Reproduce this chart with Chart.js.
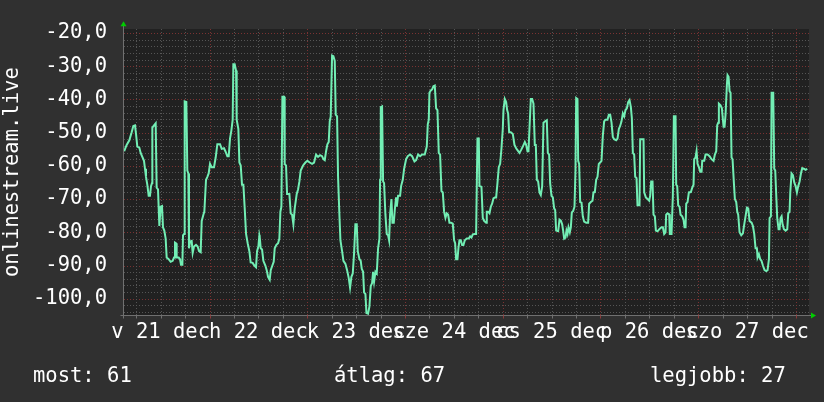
<!DOCTYPE html>
<html>
<head>
<meta charset="utf-8">
<script src="https://cdn.jsdelivr.net/npm/chart.js@4.4.1/dist/chart.umd.min.js"></script>
<style>
html,body{margin:0;padding:0;background:#303030;}
#wrap{position:relative;width:824px;height:402px;overflow:hidden;}
canvas{display:block;}
.stat{position:absolute;top:363px;font-family:"DejaVu Sans Mono",monospace;font-size:20.5px;line-height:24px;color:#ffffff;white-space:pre;}
#s0{left:33px;} #s1{left:334px;} #s2{left:650px;}
</style>
</head>
<body>
<div id="wrap">
<canvas id="c" width="824" height="402"></canvas>
<span class="stat" id="s0"></span><span class="stat" id="s1"></span><span class="stat" id="s2"></span>
</div>
<script>
// ---- data (hours counted from 21 Dec 00:00) ----
const hoursA = [3.05,3.65,4.31,4.88,5.29,5.70,5.95,6.27,6.76,7.09,7.58,7.91,8.16,8.40,8.73,9.06,9.38,9.63,9.88,9.96,10.37,10.78,11.02,11.35,11.68,12.00,12.33,12.58,12.90,13.23,13.48,13.97,14.46,14.95,15.28,15.52,15.77,15.93,16.43,16.75,17.00,17.33,17.49,17.74,17.90,18.31,18.55,18.80,18.96,19.21,19.62,19.86,20.19,20.68,21.09,21.42,21.83,22.08,22.49,22.73,23.14,23.47,23.79,24.12,24.53,25.10,25.51,25.92,26.58,26.99,27.56,27.89,28.38,28.71,29.03,29.36,29.69,29.85,30.18,30.51,30.67,31.08,31.33,31.66,31.98,32.31,32.64,32.97,33.37,33.78,34.11,34.60,35.01,35.42,35.67,36.00,36.24];
const valuesA = [-55.6,-53.7,-52.3,-49.9,-48.0,-47.8,-50.4,-54.2,-54.5,-56.1,-57.5,-58.5,-60.9,-63.3,-65.7,-69.0,-69.0,-66.1,-65.2,-48.5,-47.8,-47.2,-66.6,-67.1,-78.1,-72.3,-72.1,-78.5,-79.5,-81.9,-87.6,-88.1,-88.9,-88.6,-87.6,-83.1,-83.3,-87.6,-87.6,-88.1,-89.8,-89.8,-80.9,-80.5,-40.6,-40.8,-61.4,-62.3,-84.8,-82.8,-82.6,-86.2,-84.3,-83.8,-84.3,-85.7,-86.0,-76.6,-74.7,-73.8,-64.2,-63.3,-62.3,-59.4,-60.4,-60.4,-57.5,-53.5,-53.5,-54.9,-54.7,-55.6,-57.1,-57.1,-51.8,-49.4,-46.1,-29.4,-29.4,-31.3,-46.1,-48.9,-59.0,-59.9,-65.7,-65.7,-72.8,-80.5,-83.3,-85.7,-89.1,-89.2,-90.0,-90.5,-85.7,-84.3,-80.9];

const hoursB = [36.32,36.57,36.90,37.22,37.71,38.04,38.37,38.78,39.03,39.43,39.76,40.01,40.42,40.83,41.15,41.40,41.65,41.89,42.30,42.46,42.79,43.04,43.61,43.94,44.27,44.59,44.92,45.41,45.74,46.07,46.39,46.97,47.54,48.03,48.61,49.18,49.67,50.16,50.65,51.14,51.63,51.96,52.29,52.62,52.94,53.27,53.52,53.76,54.09,54.42,54.75,54.99,55.32,55.56,55.89,56.14,56.55,56.88,57.37,57.78,58.19,58.51,58.84,59.17,59.50,59.82,60.15,60.40,60.81,61.13,61.38,61.71,61.95,62.28,62.53,62.93,63.26,63.59,63.92,64.16,64.41,64.74,65.06,65.39,65.72,65.88,66.05,66.37,66.62,66.86,67.19,67.52,67.85,68.09,68.34,68.67,68.91,69.24,69.49,69.81];
const valuesB = [-81.4,-84.8,-85.2,-88.6,-90.0,-91.4,-93.4,-94.3,-91.4,-90.0,-88.9,-84.8,-83.8,-83.3,-81.9,-73.8,-72.3,-39.2,-39.2,-59.4,-59.9,-68.5,-68.5,-74.3,-74.7,-77.6,-72.8,-68.5,-67.1,-64.7,-61.4,-59.9,-59.0,-58.5,-59.0,-59.4,-59.0,-56.6,-57.3,-56.8,-57.1,-58.0,-58.3,-55.6,-53.5,-52.8,-46.6,-45.1,-26.8,-27.0,-28.4,-44.6,-45.1,-63.3,-74.7,-82.4,-85.7,-88.6,-89.5,-91.4,-93.8,-96.7,-93.4,-92.4,-86.2,-77.6,-77.6,-85.7,-88.1,-88.6,-91.0,-91.9,-98.1,-98.6,-104.3,-104.5,-102.4,-96.2,-95.3,-91.9,-94.8,-91.9,-92.4,-84.8,-81.9,-64.2,-42.3,-42.1,-64.7,-65.2,-74.7,-80.5,-80.9,-82.4,-74.7,-70.0,-77.1,-77.1,-73.3,-69.5];

const hoursC = [69.98,70.30,70.79,71.04,71.45,71.78,72.27,72.68,73.25,73.74,74.32,74.73,75.22,75.71,76.20,76.85,77.35,77.59,77.84,78.00,78.33,78.66,78.98,79.31,79.64,79.97,80.29,80.62,80.95,81.28,81.60,81.93,82.26,82.59,82.91,83.32,83.73,84.06,84.31,84.55,84.88,85.12,85.37,85.70,86.02,86.35,86.68,87.17,87.66,87.99,88.32,88.64,89.14,89.46,89.79,90.12,90.28,90.77,91.10,91.43,91.92,92.08,92.41,92.74,93.07,93.39,93.72,94.05,94.38,94.70,95.03,95.36,95.69,96.01,96.18,96.50,96.83,97.08,97.32,97.57,97.98,98.47,98.88,99.29,99.70,100.11,100.52,100.93,101.42,101.74,102.07,102.32,102.56,102.89,103.22,103.55,103.87];
const valuesC = [-72.3,-69.0,-69.0,-66.1,-64.2,-60.9,-58.0,-57.1,-56.6,-57.1,-58.7,-58.3,-56.6,-57.1,-56.6,-56.6,-54.2,-47.5,-46.1,-38.0,-37.3,-37.0,-36.0,-35.8,-42.7,-43.2,-56.1,-56.6,-67.6,-68.0,-73.8,-75.7,-74.3,-74.7,-77.1,-77.1,-77.4,-82.4,-83.3,-88.1,-88.1,-84.8,-82.4,-82.4,-83.8,-83.8,-82.4,-81.9,-81.9,-81.2,-81.6,-80.6,-80.5,-80.5,-51.8,-51.8,-66.1,-66.3,-75.7,-76.6,-77.1,-73.8,-73.8,-74.3,-72.3,-71.4,-69.8,-69.5,-69.5,-65.2,-60.4,-59.4,-54.7,-48.9,-43.2,-39.9,-40.8,-43.2,-44.2,-49.9,-49.9,-50.4,-53.7,-54.7,-55.4,-56.1,-55.2,-54.2,-52.8,-53.7,-55.6,-55.6,-48.9,-39.9,-39.9,-41.3,-53.7];

const hoursD = [104.12,104.37,104.69,105.02,105.35,105.68,106.00,106.41,106.82,107.07,107.39,107.64,107.97,108.30,108.62,108.87,109.11,109.61,109.93,110.26,110.59,110.83,111.08,111.41,111.65,111.90,112.14,112.47,112.72,112.96,113.29,113.62,113.86,114.03,114.35,114.52,114.76,115.01,115.34,115.66,115.99,116.48,116.97,117.22,117.63,118.04,118.28,118.61,118.94,119.27,119.59,119.92,120.25,120.58,120.90,121.23,121.72,122.05,122.38,122.71,123.03,123.36,123.85,124.18,124.51,124.83,125.16,125.49,125.82,126.14,126.47,126.80,127.13,127.46,127.70,127.95,128.27,128.52,128.85,129.09,129.58,129.75,130.32,130.57,130.73,131.14,131.55,131.96,132.20,132.45,132.78,133.02,133.35,133.60,134.01,134.50,134.99,135.32,135.64,135.97,136.13,136.46,136.87,137.03,137.44,137.77];
const valuesD = [-53.7,-64.2,-64.7,-68.0,-68.8,-66.1,-47.0,-46.6,-46.3,-56.1,-56.6,-65.2,-69.0,-69.5,-72.8,-73.3,-79.5,-79.7,-76.2,-76.5,-77.6,-79.5,-81.9,-81.6,-79.5,-80.5,-78.5,-80.0,-78.5,-74.0,-73.6,-72.3,-61.4,-39.6,-39.9,-58.5,-59.4,-70.9,-71.1,-75.2,-76.8,-77.1,-77.1,-71.4,-70.9,-70.5,-68.0,-67.9,-64.2,-63.3,-59.4,-59.0,-58.5,-50.9,-46.6,-46.1,-46.1,-44.6,-44.6,-47.0,-51.3,-52.0,-52.3,-51.8,-48.9,-48.0,-46.6,-44.2,-45.1,-43.2,-42.7,-40.8,-40.2,-42.3,-45.6,-56.1,-56.6,-63.3,-63.7,-71.9,-71.9,-52.0,-52.0,-52.0,-68.0,-69.5,-70.0,-70.5,-69.0,-64.7,-64.7,-74.7,-75.2,-79.5,-79.7,-79.0,-78.5,-78.5,-80.5,-80.0,-74.7,-74.3,-74.6,-80.5,-80.5,-69.0];

const hoursE = [138.02,138.43,138.59,138.84,139.08,139.41,139.66,140.07,140.39,140.64,140.89,141.05,141.38,141.70,142.20,142.52,142.85,143.01,143.34,143.59,143.83,144.16,144.49,144.82,144.98,145.47,145.80,146.29,146.78,147.27,147.76,148.09,148.42,148.66,148.91,149.07,149.48,149.81,150.06,150.22,150.46,150.71,151.04,151.20,151.45,151.69,151.94,152.18,152.43,152.76,153.00,153.33,153.58,153.82,154.15,154.56,154.97,155.30,155.62,155.95,156.28,156.61,157.10,157.43,157.75,158.08,158.41,158.57,158.90,159.23,159.55,159.88,160.29,160.70,161.03,161.36,161.52,161.85,162.01,162.42,162.66,162.91,163.16,163.40,163.73,163.97,164.22,164.47,164.71,165.04,165.45,165.86,166.10,166.43,166.60,166.92,167.25,167.58,167.91,168.23,168.56,168.89,169.22,169.54,170.03,170.36,170.77];
const valuesE = [-45.1,-45.1,-65.7,-66.1,-71.9,-72.3,-74.7,-75.2,-76.2,-78.5,-78.5,-71.4,-70.9,-68.0,-67.9,-66.6,-65.7,-58.0,-57.5,-55.6,-59.4,-60.4,-61.8,-61.8,-58.5,-58.5,-56.6,-56.6,-57.1,-58.0,-58.5,-56.6,-55.6,-47.8,-47.0,-41.3,-41.8,-42.7,-46.1,-48.2,-48.2,-44.6,-35.6,-32.7,-33.2,-37.5,-38.0,-57.5,-58.0,-65.2,-70.0,-70.9,-73.8,-74.7,-80.0,-80.9,-80.3,-77.6,-75.2,-72.6,-72.8,-76.6,-77.1,-78.1,-80.5,-84.8,-84.8,-87.6,-86.6,-88.1,-88.6,-90.0,-91.4,-91.7,-91.4,-88.1,-75.7,-75.2,-38.0,-38.0,-60.9,-61.4,-69.0,-75.7,-79.1,-79.1,-75.7,-75.2,-77.6,-79.1,-79.5,-79.1,-74.3,-73.8,-68.0,-62.3,-62.8,-65.0,-66.1,-68.0,-66.1,-64.7,-62.3,-60.7,-60.9,-61.2,-60.9];

const dayLabels  = ["v 21 dec","h 22 dec","k 23 dec","sze 24 dec","cs 25 dec","p 26 dec","szo 27 dec"];
const dayCenters = [12,36,60,84,108,132,156];
const yTickValues = [-100,-90,-80,-70,-60,-50,-40,-30,-20];
const statLabels = ["most","átlag","legjobb"];
const statValues = [61,67,27];
const axisTitle = "onlinestream.live";

// ---- build ----
const allHours = [].concat(hoursA,hoursB,hoursC,hoursD,hoursE);
const allValues = [].concat(valuesA,valuesB,valuesC,valuesD,valuesE);
const points = allHours.map((h,i)=>({x:h,y:allValues[i]}));

statLabels.forEach((l,i)=>{ document.getElementById('s'+i).textContent = l + ': ' + statValues[i]; });

const FONT = '"DejaVu Sans Mono", monospace';
const MINOR = '#555555', MAJOR = '#7a3232';

const frame = {
  id:'frame',
  beforeDraw(chart){
    const {ctx, chartArea:a} = chart;
    ctx.save();
    ctx.fillStyle = '#303030';
    ctx.fillRect(0,0,chart.width,chart.height);
    ctx.fillStyle = '#212121';
    ctx.fillRect(Math.round(a.left), Math.round(a.top), Math.round(a.right-a.left), Math.round(a.bottom-a.top));
    ctx.restore();
  },
  beforeDatasetsDraw(chart){
    const {ctx, chartArea:a, scales:{x,y}} = chart;
    const L = Math.round(a.left), R = Math.round(a.right), T = Math.round(a.top), B = Math.round(a.bottom);
    ctx.save();
    ctx.lineWidth = 1;
    ctx.setLineDash([1,2]);
    for (let v=-104; v<=-20; v+=2){
      const py = Math.round(y.getPixelForValue(v)) + 0.5;
      ctx.strokeStyle = (v % 10 === 0) ? MAJOR : MINOR;
      ctx.beginPath(); ctx.moveTo(L, py); ctx.lineTo(R, py); ctx.stroke();
    }
    for (let h=6; h<=168; h+=6){
      const px = Math.round(x.getPixelForValue(h)) + 0.5;
      ctx.strokeStyle = (h % 24 === 0) ? MAJOR : MINOR;
      ctx.beginPath(); ctx.moveTo(px, T); ctx.lineTo(px, B); ctx.stroke();
    }
    ctx.setLineDash([]);
    // axis lines and small tick marks
    ctx.strokeStyle = '#707070';
    const bx = L - 0.5, by = B + 0.5;
    ctx.beginPath(); ctx.moveTo(bx, T - 4); ctx.lineTo(bx, by + 3); ctx.stroke();
    ctx.beginPath(); ctx.moveTo(bx - 3, by); ctx.lineTo(R + 4, by); ctx.stroke();
    for (let h=6; h<=168; h+=6){
      const px = Math.round(x.getPixelForValue(h)) + 0.5;
      ctx.strokeStyle = (h % 24 === 0) ? '#8a3a3a' : '#707070';
      ctx.beginPath(); ctx.moveTo(px, by); ctx.lineTo(px, by + 3); ctx.stroke();
    }
    ctx.restore();
  },
  afterDraw(chart){
    const {ctx, chartArea:a} = chart;
    const bx = Math.round(a.left) - 0.5, by = Math.round(a.bottom) + 0.5;
    ctx.save();
    ctx.fillStyle = '#00cc00';
    ctx.beginPath(); ctx.moveTo(bx - 3, a.top - 3); ctx.lineTo(bx + 3, a.top - 3); ctx.lineTo(bx, a.top - 8); ctx.closePath(); ctx.fill();
    ctx.beginPath(); ctx.moveTo(a.right + 2, by - 3); ctx.lineTo(a.right + 2, by + 3); ctx.lineTo(a.right + 7, by); ctx.closePath(); ctx.fill();
    ctx.restore();
  }
};

new Chart(document.getElementById('c'), {
  type: 'line',
  data: { datasets: [{
    data: points,
    borderColor: '#72eeb4',
    borderWidth: 2,
    pointRadius: 0,
    tension: 0,
    fill: false
  }]},
  options: {
    responsive: false,
    animation: false,
    devicePixelRatio: 1,
    layout: { padding: { top: 15, right: 15, left: 0, bottom: 0 } },
    plugins: { legend: { display: false }, tooltip: { enabled: false } },
    scales: {
      x: {
        type: 'linear', min: 3.0, max: 171.2,
        grid: { display: false, drawTicks: false },
        border: { display: false },
        afterBuildTicks: (s) => { s.ticks = dayCenters.map(v => ({ value: v })); },
        afterFit: (s) => { s.height = 87; },
        ticks: {
          autoSkip: false, maxRotation: 0, minRotation: 0, padding: 5,
          color: '#ffffff', font: { family: FONT, size: 20.5 },
          callback: (v, i) => dayLabels[i]
        }
      },
      y: {
        type: 'linear', min: -104.9, max: -18.9,
        grid: { display: false, drawTicks: false },
        border: { display: false },
        afterBuildTicks: (s) => { s.ticks = yTickValues.map(v => ({ value: v })); },
        afterFit: (s) => { s.width = 124; },
        ticks: {
          padding: 17, color: '#ffffff', font: { family: FONT, size: 20.5 },
          callback: (v) => Number(v).toFixed(1).replace('.', ',')
        },
        title: { display: true, text: axisTitle, color: '#ffffff', padding: 0, font: { family: FONT, size: 20.5 } }
      }
    }
  },
  plugins: [frame]
});
</script>
</body>
</html>
